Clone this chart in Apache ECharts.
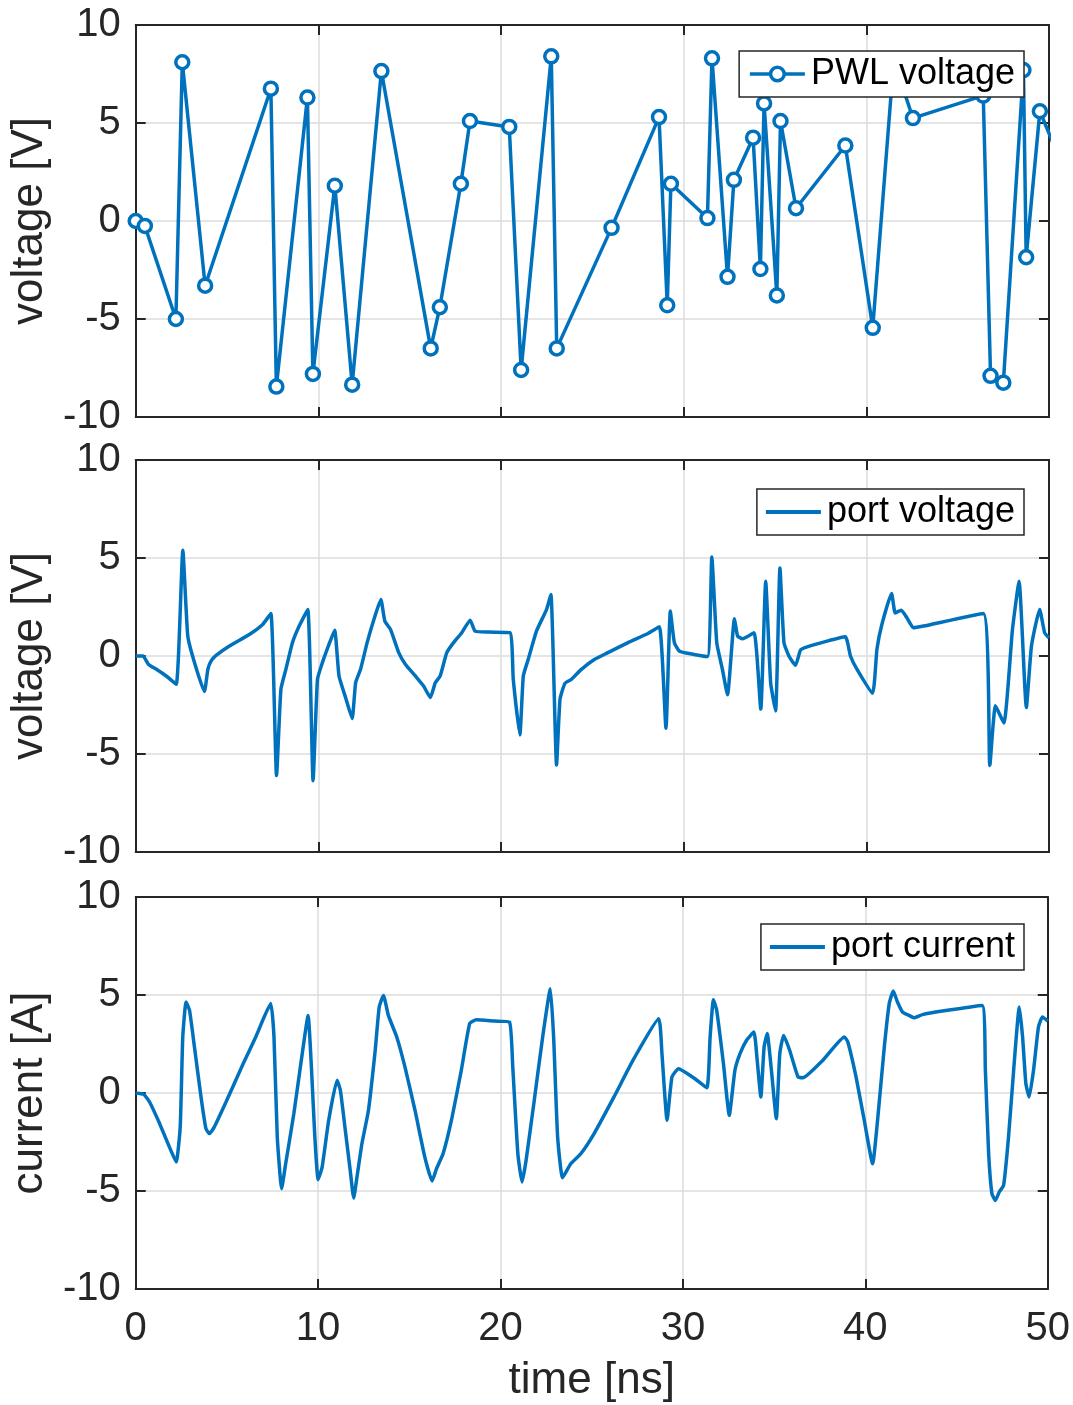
<!DOCTYPE html>
<html>
<head>
<meta charset="utf-8">
<script src="https://cdn.jsdelivr.net/npm/echarts@6/dist/echarts.min.js"></script>
<style>
  html, body { margin: 0; padding: 0; background: #fff; }
  #chart { width: 1073px; height: 1405px; }
</style>
</head>
<body>
<div id="chart"></div>
<script>
// Piecewise-linear source voltage (breakpoints)
const pwlTime = [0, 0.5, 2.2, 2.55, 3.8, 7.4, 7.7, 9.4, 9.7, 10.9, 11.85, 13.45, 16.15, 16.65,
  17.8, 18.3, 20.45, 21.1, 22.75, 23.05, 26.05, 28.65, 29.1, 29.3, 31.3, 31.55, 32.4, 32.75,
  33.8, 34.2, 34.4, 35.1, 35.3, 36.15, 38.85, 40.35, 41.5, 42.55, 46.4, 46.8, 47.5, 48.6,
  48.75, 49.5, 50.5];
const pwlVolt = [0, -0.25, -5.0, 8.1, -3.3, 6.75, -8.45, 6.3, -7.8, 1.8, -8.35, 7.65, -6.5, -4.4,
  1.9, 5.1, 4.8, -7.6, 8.4, -6.5, -0.35, 5.3, -4.3, 1.9, 0.15, 8.3, -2.85, 2.1,
  4.25, -2.45, 6.0, -3.8, 5.1, 0.65, 3.85, -5.45, 8.2, 5.25, 6.4, -7.9, -8.25, 7.7,
  -1.85, 5.6, 3.35];

// Voltage at the port
const portVTime = [0, 0.4, 0.69, 1.13, 1.67, 2.22, 2.58, 2.85, 3.22, 3.76, 3.95, 4.13, 4.4, 5.13,
  6.22, 6.95, 7.4, 7.71, 7.95, 8.22, 8.58, 8.95, 9.42, 9.71, 9.95, 10.22, 10.58, 10.89, 11.13,
  11.49, 11.85, 12.04, 12.31, 12.67, 13.04, 13.42, 13.64, 13.95, 14.4, 14.76, 15.31, 15.76,
  16.13, 16.4, 16.67, 17.03, 17.4, 17.85, 18.31, 18.58, 19.31, 20.49, 20.67, 21.03, 21.22,
  21.49, 21.94, 22.49, 22.73, 23.04, 23.23, 23.5, 23.85, 24.4, 25.13, 25.85, 26.95, 28.04,
  28.67, 29.03, 29.27, 29.49, 29.76, 30.22, 31.3, 31.54, 31.81, 32.12, 32.4, 32.78, 32.95,
  33.22, 33.85, 34.22, 34.49, 34.76, 35.03, 35.27, 35.49, 35.76, 36.12, 36.4, 36.76, 37.85,
  38.85, 39.13, 39.49, 40.34, 40.58, 40.85, 41.38, 41.58, 41.91, 42.22, 42.58, 43.13, 46.4,
  46.76, 47.07, 47.53, 48.0, 48.36, 48.76, 49.04, 49.49, 49.76, 50.0];
const portVolt = [0, 0, -0.42, -0.68, -1.02, -1.44, 5.39, 1.02, -0.34, -1.81, -0.68, -0.25, 0.03, 0.51,
  1.10, 1.61, 2.17, -6.10, -1.69, -0.68, 0.68, 1.53, 2.37, -6.36, -1.19, -0.34, 0.59, 1.32, -1.02,
  -2.12, -3.19, -1.36, -0.68, 0.68, 1.86, 2.88, 1.78, 1.36, 0.17, -0.42, -1.02, -1.53,
  -2.12, -1.36, -1.02, 0.17, 0.68, 1.19, 1.83, 1.27, 1.22, 1.19, -1.19, -4.03, -1.02,
  -0.17, 1.27, 2.37, 3.14, -5.56, -2.2, -1.39, -1.19, -0.68, -0.17, 0.17, 0.68, 1.15,
  1.49, -3.69, 2.29, 0.68, 0.25, 0.14, -0.03, 5.05, 0.68, -0.68, -1.98, 1.9, 1.02,
  0.88, 1.19, -2.71, 3.81, -1.36, -2.8, 4.49, 0.68, 0, -0.47, 0.31, 0.47, 0.76,
  0.98, 0, -0.68, -1.9, 0.34, 1.61, 3.19, 2.2, 2.34, 1.95, 1.44, 1.53, 2.17,
  -5.59, -2.54, -3.42, 1.36, 3.81, -2.63, 0.51, 2.37, 1.19, 0.93];

// Current into the port
const portITime = [0, 0.44, 0.76, 1.31, 1.85, 2.22, 2.44, 2.58, 2.76, 2.95, 3.22, 3.58, 3.85, 4.04,
  4.31, 4.95, 5.85, 6.58, 7.4, 7.58, 7.76, 8.0, 8.22, 8.67, 9.13, 9.45, 9.64, 9.82, 10.0,
  10.22, 10.58, 11.04, 11.22, 11.49, 11.76, 11.95, 12.13, 12.4, 12.76, 13.13, 13.35, 13.58,
  13.85, 14.31, 14.76, 15.31, 15.85, 16.25, 16.49, 16.85, 17.31, 17.85, 18.31, 18.67, 19.67,
  20.49, 20.67, 20.95, 21.18, 21.4, 21.85, 22.31, 22.73, 22.91, 23.13, 23.4, 23.85, 24.4,
  25.13, 26.22, 27.31, 28.67, 28.85, 29.13, 29.4, 29.76, 30.58, 31.31, 31.49, 31.67, 31.85,
  32.22, 32.54, 32.85, 33.13, 33.49, 33.89, 34.07, 34.27, 34.45, 34.62, 34.85, 35.12, 35.31,
  35.52, 35.85, 36.31, 36.58, 37.67, 38.85, 39.04, 39.49, 39.94, 40.4, 40.67, 41.04, 41.31,
  41.53, 41.76, 42.04, 42.4, 42.67, 43.13, 44.22, 46.4, 46.58, 46.76, 46.94, 47.13, 47.34,
  47.58, 47.85, 48.13, 48.44, 48.62, 48.8, 48.98, 49.22, 49.49, 49.71, 50.0];
const portCurr = [0, -0.07, -0.46, -1.56, -2.76, -3.52, -1.73, 2.86, 4.64, 4.22, 2.35, -0.2, -1.82, -2.07,
  -1.73, -0.46, 1.41, 2.86, 4.56, 2.86, -2.24, -4.88, -3.61, -1.05, 2.01, 3.96, 1.16, -2.24, -4.42,
  -3.78, -1.39, 0.65, 0.14, -1.9, -3.95, -5.36, -4.29, -2.59, -0.88, 2.18, 4.39, 4.98,
  3.96, 2.86, 1.33, -0.88, -3.27, -4.49, -3.86, -3.1, -1.39, 1.16, 3.54, 3.74, 3.67,
  3.62, 1.33, -3.1, -4.54, -3.44, -0.37, 2.86, 5.32, 2.86, -2.24, -4.32, -3.61, -3.1,
  -2.07, -0.2, 1.75, 3.79, 2.0, -1.39, 0.82, 1.24, 0.78, 0.27, 2.86, 4.76, 4.22,
  1.5, -1.14, 1.16, 2.01, 2.69, 3.11, 1.67, -0.2, 2.35, 3.03, 1.16, -1.31, 2.01,
  2.94, 2.18, 0.82, 0.78, 1.67, 2.86, 2.6, 0.82, -1.39, -3.61, -1.39, 2.35, 4.56,
  5.2, 4.64, 4.13, 3.96, 3.84, 4.0, 4.18, 4.47, 1.16, -3.1, -5.14, -5.48, -5.05,
  -4.71, -2.24, 1.16, 4.39, 2.86, 0.48, -0.2, 1.16, 3.37, 3.88, 3.67];

const timeTicks = [0, 10, 20, 30, 40, 50];
const valueTicks = [-10, -5, 0, 5, 10];
const panelNames = ['voltage [V]', 'voltage [V]', 'current [A]'];
const seriesNames = ['PWL voltage', 'port voltage', 'port current'];

const zip = (xs, ys) => xs.map((x, i) => [x, ys[i]]);

const FONT = '"Liberation Sans", Arial, Helvetica, sans-serif';
const AXIS_COLOR = '#262626';
const GRID_COLOR = '#dcdcdc';
const LINE_COLOR = '#0072BD';
const LINE_WIDTH = 3.5;

const gridTops = [25, 460, 897];
const gridHeight = 392;

const grids = gridTops.map(top => ({
  left: 133, right: 24, top: top, height: gridHeight, containLabel: false
}));

const boxLine = { show: true, onZero: false, lineStyle: { color: AXIS_COLOR, width: 2 } };
const boxTick = { show: true, inside: true, length: 10, lineStyle: { color: AXIS_COLOR, width: 2 } };

const xAxes = [];
const yAxes = [];
gridTops.forEach((_, g) => {
  const isLast = g === gridTops.length - 1;
  xAxes.push({
    gridIndex: g, type: 'value', position: 'bottom',
    min: timeTicks[0], max: timeTicks[timeTicks.length - 1], interval: 10,
    axisLine: boxLine, axisTick: boxTick,
    axisLabel: { show: isLast, fontSize: 40, color: AXIS_COLOR, fontFamily: FONT, margin: 20 },
    splitLine: { show: true, lineStyle: { color: GRID_COLOR, width: 1.5 } },
    name: isLast ? 'time [ns]' : '',
    nameLocation: 'middle', nameGap: 70,
    nameTextStyle: { fontSize: 44, color: AXIS_COLOR, fontFamily: FONT }
  });
  xAxes.push({
    gridIndex: g, type: 'value', position: 'top',
    min: timeTicks[0], max: timeTicks[timeTicks.length - 1], interval: 10,
    axisLine: boxLine, axisTick: boxTick,
    axisLabel: { show: false },
    splitLine: { show: false }
  });
  yAxes.push({
    gridIndex: g, type: 'value', position: 'left',
    min: valueTicks[0], max: valueTicks[valueTicks.length - 1], interval: 5,
    axisLine: boxLine, axisTick: boxTick,
    axisLabel: { show: true, fontSize: 40, color: AXIS_COLOR, fontFamily: FONT, margin: 15,
      padding: [8, 0, 0, 0] },
    splitLine: { show: true, lineStyle: { color: GRID_COLOR, width: 1.5 } },
    name: panelNames[g], nameLocation: 'middle', nameGap: 78,
    nameTextStyle: { fontSize: 44, color: AXIS_COLOR, fontFamily: FONT }
  });
  yAxes.push({
    gridIndex: g, type: 'value', position: 'right',
    min: valueTicks[0], max: valueTicks[valueTicks.length - 1], interval: 5,
    axisLine: boxLine, axisTick: boxTick,
    axisLabel: { show: false },
    splitLine: { show: false }
  });
});

// Open-circle marker style shared by the PWL series and its legend entry
const markerStyle = { color: '#ffffff', borderColor: LINE_COLOR, borderWidth: 3.5 };

const legendTops = [51, 489, 924];
const legends = seriesNames.map((name, g) => ({
  data: [g === 0 ? { name: name } : { name: name, icon: 'rect' }],
  right: 49, top: legendTops[g],
  orient: 'horizontal',
  itemWidth: 55, itemHeight: g === 0 ? 17 : 4, itemGap: 0,
  padding: [5, 9, 5, 9],
  backgroundColor: '#ffffff',
  borderColor: AXIS_COLOR, borderWidth: 1.5, borderRadius: 0,
  itemStyle: g === 0 ? markerStyle : { color: LINE_COLOR, borderWidth: 0 },
  lineStyle: { width: LINE_WIDTH, color: LINE_COLOR },
  textStyle: { fontSize: 36, color: '#000', fontFamily: FONT, padding: [0, 0, 0, 1] },
  selectedMode: false,
  z: 10
}));

const option = {
  backgroundColor: '#ffffff',
  animation: false,
  grid: grids,
  xAxis: xAxes,
  yAxis: yAxes,
  legend: legends,
  series: [
    {
      name: seriesNames[0], type: 'line', xAxisIndex: 0, yAxisIndex: 0,
      data: zip(pwlTime, pwlVolt),
      symbol: 'circle', symbolSize: 13, showSymbol: true,
      itemStyle: markerStyle,
      lineStyle: { color: LINE_COLOR, width: LINE_WIDTH },
      clip: true, z: 3
    },
    {
      name: seriesNames[1], type: 'line', xAxisIndex: 2, yAxisIndex: 2,
      data: zip(portVTime, portVolt),
      symbol: 'none', smooth: 0.15,
      itemStyle: { color: LINE_COLOR },
      lineStyle: { color: LINE_COLOR, width: LINE_WIDTH },
      clip: true, z: 3
    },
    {
      name: seriesNames[2], type: 'line', xAxisIndex: 4, yAxisIndex: 4,
      data: zip(portITime, portCurr),
      symbol: 'none', smooth: 0.15,
      itemStyle: { color: LINE_COLOR },
      lineStyle: { color: LINE_COLOR, width: LINE_WIDTH },
      clip: true, z: 3
    }
  ]
};

const chart = echarts.init(document.getElementById('chart'), null, { renderer: 'canvas' });
chart.setOption(option);
</script>
</body>
</html>
